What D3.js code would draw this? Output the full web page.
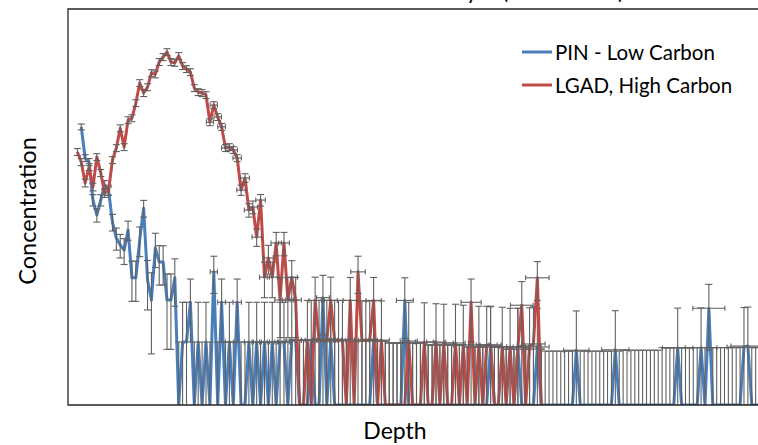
<!DOCTYPE html>
<html><head><meta charset="utf-8">
<script src="https://cdn.jsdelivr.net/npm/d3@7"></script>
<style>
body{margin:0;background:#fff}
text{font-family:Lato,"Open Sans",sans-serif;fill:#000}
</style>
</head><body>
<svg id="chart" width="758" height="445"></svg>
<script>
// ---- data (concentration in 1e15 cm^-3, 0 = below detection; depth in nm) ----
const depthStart = 24, depthStep = 10, depthCount = 176;
const depthRelErr = 0.025;
const seriesNames = ["PIN - Low Carbon", "LGAD, High Carbon"];
const titleText = "Carbon in the Gain Layer (Normalized)";
const xTitle = "Depth", yTitle = "Concentration";

const pinValues = [null,128,74.3,69.3,35.7,27.5,35.7,46.4,42.5,24.3,
 18.4,16.3,14.9,21.2,9.2,9.2,17.8,31,8.85,6.24,
 15.5,12.1,12.1,6.24,6.24,9.2,0,3.0,3.0,6.0,
 0,3.0,0,3.0,0,10.2,0,6.0,0,3.0,
 0,6.0,0,0,3.0,0,3.0,0,3.0,0,
 3.0,0,3.0,3.0,0,3.1,3.1,0,0,0,
 3.1,0,0,6.5,0,3.1,0,0,0,0,
 0,0,0,0,0,0,3.1,0,0,0,
 0,0,0,0,6.2,0,0,0,0,0,
 0,0,0,0,0,0,0,0,0,0,
 0,0,0,0,0,0,2.8,0,0,0,
 0,0,0,2.75,0,0,0,0,2.75,0,
 0,0,0,0,0,0,0,0,2.6,0,
 0,0,0,0,0,0,0,0,2.62,0,
 0,0,0,0,0,0,0,0,0,0,
 0,0,0,0,2.7,0,0,0,0,0,
 2.72,0,5.4,0,0,0,0,0,0,0,
 0,2.75,2.8,0,0,0];
const pinErrors = [null,6.5,4.5,4.3,3.5,3.2,3.5,3.8,3.7,3.5,
 3.5,3.3,3.3,3.5,3.1,3.1,4.5,4.5,3.6,3.8,
 4.5,4,4,3.6,3.6,3.6,3.0,3.0,3.0,3.0,
 3.0,3.0,3.0,3.0,3.0,3.2,3.0,3.0,3.0,3.0,
 3.0,3.0,3.0,3.0,3.0,3.0,3.0,3.0,3.0,3.0,
 3.0,3.0,3.0,3.0,3.0,3.1,3.1,3.1,3.1,3.1,
 3.1,3.1,3.1,3.1,3.1,3.1,3.1,3.1,3.1,3.1,
 3.05,3.05,3.05,3.05,3.05,3.05,3.05,3.05,3.05,3.05,
 2.95,2.95,2.95,2.95,3.0,2.95,2.95,2.95,2.95,2.95,
 2.85,2.85,2.85,2.85,2.85,2.85,2.85,2.85,2.85,2.85,
 2.75,2.75,2.75,2.75,2.75,2.75,2.75,2.75,2.75,2.75,
 2.65,2.65,2.65,2.65,2.65,2.65,2.65,2.65,2.65,2.65,
 2.56,2.56,2.56,2.56,2.56,2.56,2.56,2.56,2.56,2.56,
 2.56,2.56,2.56,2.56,2.56,2.56,2.56,2.56,2.56,2.56,
 2.6,2.6,2.6,2.6,2.6,2.6,2.6,2.6,2.6,2.6,
 2.72,2.72,2.72,2.72,2.72,2.72,2.72,2.72,2.72,2.72,
 2.72,2.72,2.8,2.72,2.72,2.72,2.72,2.72,2.72,2.72,
 2.72,2.72,2.72,2.72,2.72,2.72];
const lgadValues = [82.6,69.3,48.1,63.5,44.9,75.7,57.3,40.4,41.8,71.8,
 88.5,125,90,144,149,194,275,231,256,327,
 320,397,433,472,397,392,441,370,351,333,
 252,235,231,223,139,187,152,128,88.5,90,
 85.5,74.3,42.5,52.5,30,31.6,18.7,35.7,9.3,13,
 9.3,16.9,6.24,16.9,6.24,9.3,6.24,0,0,3.1,
 0,6.2,3.1,3.1,3.1,6.2,3.1,3.1,3.1,0,
 6.2,0,10.2,3.1,3.1,3.1,6.2,0,3.1,0,
 0,0,0,0,0,3.05,0,0,0,3.0,
 0,0,3.0,0,2.95,0,0,2.95,0,2.85,
 0,6.0,0,2.85,0,2.85,2.85,0,0,2.75,
 0,2.75,0,2.75,5.7,0,2.8,2.9,9.2,0];
const lgadErrors = [5,4.2,3.2,3.8,3,4.5,3.5,3,3,4.3,
 5.3,7.5,5.4,8.6,9,11.6,16.5,13.9,15.4,19.6,
 19.2,23.8,26,28.3,23.8,23.5,26.5,22.2,21,20,
 15.1,14.1,13.9,13.4,8.3,11.2,9.1,7.7,5.3,5.4,
 5.1,4.5,3.8,4,3.5,3.5,2.8,3.6,2.8,3.2,
 2.8,3.4,3,3.4,3,3.1,3,3.1,3.1,3.1,
 3.1,3.1,3.1,3.1,3.1,3.1,3.1,3.1,3.1,3.1,
 3.05,3.05,3.2,3.05,3.05,3.05,3.05,3.05,3.05,3.05,
 2.95,2.95,2.95,2.95,2.95,2.95,2.95,2.95,2.95,2.95,
 2.85,2.85,2.85,2.85,2.85,2.85,2.85,2.85,2.85,2.85,
 2.75,3.0,2.75,2.75,2.75,2.75,2.75,2.75,2.75,2.75,
 2.65,2.65,2.65,2.65,2.9,2.65,2.65,2.65,3.0,2.65];

const depths = d3.range(depthCount).map(i => depthStart + i * depthStep);

// ---- layout ----
const colors = ["#4a7ebb", "#be4b48"];
const errColor = "#606060";
const plot = {left: 68, right: 758, top: 9, bottom: 405};

const svg = d3.select("#chart");
const x = d3.scaleLinear().domain([0, 1770]).range([plot.left, plot.right]);
const y = d3.scaleLog().domain([1, 1000]).range([plot.bottom, plot.top]);
const yPos = v => v > 0 ? Math.max(plot.top, Math.min(plot.bottom, y(v))) : plot.bottom;

svg.append("defs").append("clipPath").attr("id", "clip")
  .append("rect").attr("x", plot.left).attr("y", plot.top)
  .attr("width", plot.right - plot.left).attr("height", plot.bottom - plot.top);

// title (only its descenders fall inside the picture, as in the reference)
svg.append("text").attr("x", 624).attr("y", -1.5).attr("text-anchor", "end")
  .style("font-size", "22px").text(titleText);

const g = svg.append("g").attr("clip-path", "url(#clip)");

function drawSeries(values, errors, color) {
  const pts = values.map((v, i) => ({d: depths[i], v, e: errors[i]})).filter(p => p.v != null);
  g.append("path").datum(pts)
    .attr("d", d3.line().x(p => x(p.d)).y(p => yPos(p.v)))
    .attr("fill", "none").attr("stroke", color).attr("stroke-width", 3)
    .attr("stroke-linejoin", "round");
  const eg = g.append("g").attr("stroke", errColor).attr("stroke-width", 1.1).attr("fill", "none");
  const cap = 3.5, hcap = 2.5;
  const segs = [];
  pts.forEach(p => {
    const cx = x(p.d);
    const top = yPos(p.v + p.e);
    const low = p.v - p.e;
    const bot = low > 0 ? yPos(low) : plot.bottom;
    segs.push([cx, top, cx, bot]);
    segs.push([cx - cap, top, cx + cap, top]);
    if (low > 0) segs.push([cx - cap, bot, cx + cap, bot]);
    if (p.v > 0) {
      const cy = yPos(p.v);
      const xl = x(p.d * (1 - depthRelErr)), xr = x(p.d * (1 + depthRelErr));
      if (xr - xl > 2 * cap) {
        segs.push([xl, cy, xr, cy]);
        segs.push([xl, cy - hcap, xl, cy + hcap]);
        segs.push([xr, cy - hcap, xr, cy + hcap]);
      }
    }
  });
  eg.selectAll("line").data(segs).join("line")
    .attr("x1", s => s[0]).attr("y1", s => s[1]).attr("x2", s => s[2]).attr("y2", s => s[3]);
}
drawSeries(pinValues, pinErrors, colors[0]);
drawSeries(lgadValues, lgadErrors, colors[1]);

// plot frame
svg.append("path")
  .attr("d", `M${plot.right + 5},${plot.top}H${plot.left}V${plot.bottom}H${plot.right + 5}`)
  .attr("fill", "none").attr("stroke", "#262626").attr("stroke-width", 1.3);

// axis titles
svg.append("text").attr("x", 395).attr("y", 439).attr("text-anchor", "middle")
  .style("font-size", "23px").text(xTitle);
svg.append("text").attr("transform", "translate(36,211) rotate(-90)").attr("text-anchor", "middle")
  .style("font-size", "23.5px").text(yTitle);

// legend
const leg = svg.append("g");
seriesNames.forEach((name, i) => {
  const ly = 52 + i * 33;
  leg.append("line").attr("x1", 522).attr("x2", 552).attr("y1", ly).attr("y2", ly)
    .attr("stroke", colors[i]).attr("stroke-width", 3);
  leg.append("text").attr("x", 555).attr("y", ly).attr("dominant-baseline", "central")
    .style("font-size", "20.5px").text(name);
});
</script>
</body></html>
